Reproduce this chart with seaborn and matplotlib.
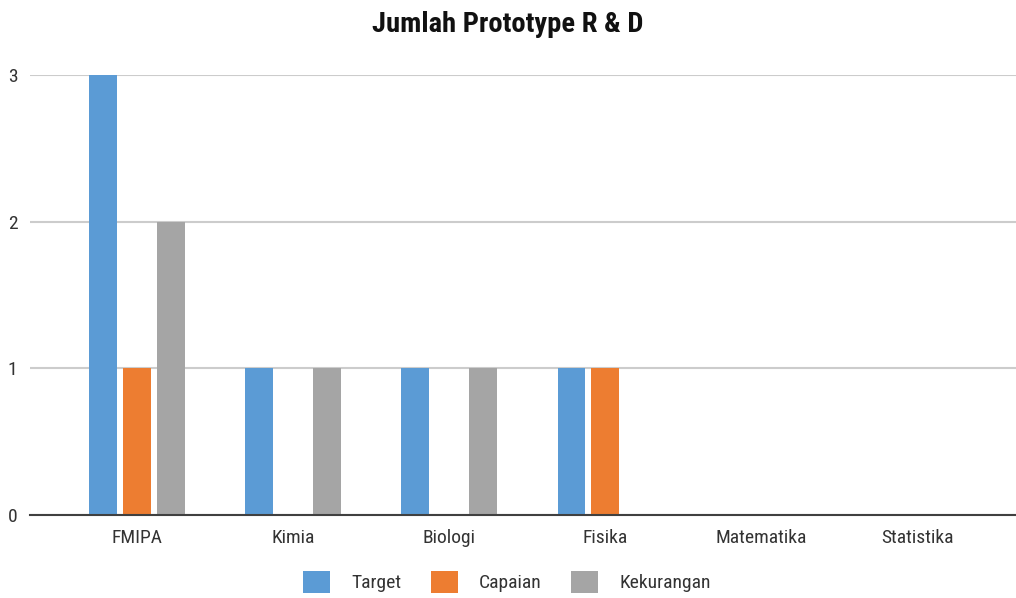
import matplotlib
matplotlib.use("Agg")
import matplotlib.pyplot as plt
import seaborn as sns
import pandas as pd
from matplotlib import font_manager as fm

categories = ["FMIPA", "Kimia", "Biologi", "Fisika", "Matematika", "Statistika"]
target = [3, 1, 1, 1, 0, 0]
capaian = [1, 0, 0, 1, 0, 0]
kekurangan = [2, 1, 1, 0, 0, 0]
series_names = ["Target", "Capaian", "Kekurangan"]
colors = ["#5B9BD5", "#ED7D31", "#A5A5A5"]
yticks = [0, 1, 2, 3]

rows = []
for name, vals in zip(series_names, [target, capaian, kekurangan]):
    for c, v in zip(categories, vals):
        rows.append({"Kategori": c, "Nilai": v, "Seri": name})
df = pd.DataFrame(rows)

sns.set_theme(style="white")

# pick a condensed font if one is installed
fam = "Roboto"
stretch = "normal"
names = {f.name for f in fm.fontManager.ttflist}
for cand in ["Liberation Sans Narrow", "Roboto Condensed", "Open Sans Condensed",
             "DejaVu Sans Condensed"]:
    if cand in names:
        fam = cand
        break
else:
    for f in fm.fontManager.ttflist:
        if f.name == "DejaVu Sans" and str(f.stretch) in ("condensed", "semi-condensed", "600", "500"):
            fam = "DejaVu Sans"
            stretch = "condensed"
            break
plt.rcParams["font.family"] = [fam, "DejaVu Sans"]
plt.rcParams["font.stretch"] = stretch
condensed = fam != "Roboto"
fs = 14 if condensed else 12.5

fig = plt.figure(figsize=(10.16, 5.98), dpi=100)
ax = fig.add_axes([30/1016, 1 - 515/598, (1016-30)/1016, (515-75)/598])

sns.barplot(data=df, x="Kategori", y="Nilai", hue="Seri", order=categories,
            hue_order=series_names, palette=colors, width=0.653, gap=0.18,
            saturation=1, ax=ax, legend=True, edgecolor="none", linewidth=0)

ax.set_xlim(-0.686, 5.63)
ax.set_ylim(0, 3)
ax.set_yticks(yticks)
ax.set_yticklabels([str(t) for t in yticks], fontsize=fs, color="#333333")
ax.tick_params(axis="x", labelsize=fs, colors="#333333", length=0, pad=10)
ax.tick_params(axis="y", length=0, pad=9)
ax.set_xlabel("")
ax.set_ylabel("")
ax.grid(axis="y", color="#CCCCCC", linewidth=1.5)
ax.set_axisbelow(True)
for s in ["top", "right", "left"]:
    ax.spines[s].set_visible(False)
ax.spines["bottom"].set_color("#404040")
ax.spines["bottom"].set_linewidth(1.5)
ax.spines["bottom"].set_zorder(5)

fig.suptitle("Jumlah Prototype R & D", x=0.5, y=0.982, fontsize=20.5,
             fontweight="bold", color="#111111")

leg = ax.legend(loc="center", ncol=3, frameon=False,
                fontsize=fs, handlelength=1.4, handleheight=1.4,
                columnspacing=1.5, handletextpad=1.1)
leg.set_bbox_to_anchor((507/1016, 1 - 582/598), transform=fig.transFigure)
for t in leg.get_texts():
    t.set_color("#333333")

fig.savefig("out.png", dpi=100)
